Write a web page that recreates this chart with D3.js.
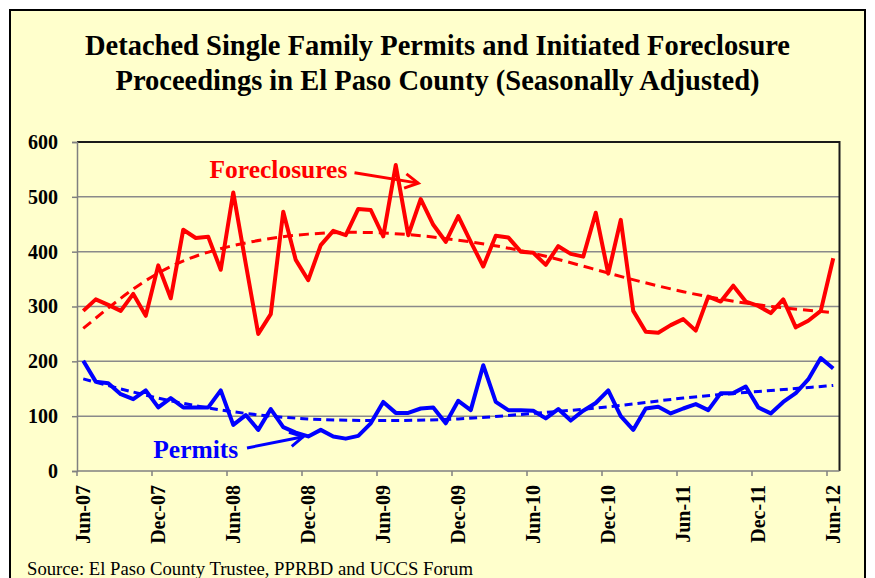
<!DOCTYPE html>
<html>
<head>
<meta charset="utf-8">
<script src="https://cdn.jsdelivr.net/npm/d3@7"></script>
<style>
  html, body { margin: 0; padding: 0; background: #ffffff; }
  svg { display: block; }
</style>
</head>
<body>
<svg id="chart" width="875" height="578"></svg>
<script>
// ---------------- DATA ----------------
const categories = [
  "Jun-07","Jul-07","Aug-07","Sep-07","Oct-07","Nov-07","Dec-07","Jan-08","Feb-08","Mar-08","Apr-08","May-08",
  "Jun-08","Jul-08","Aug-08","Sep-08","Oct-08","Nov-08","Dec-08","Jan-09","Feb-09","Mar-09","Apr-09","May-09",
  "Jun-09","Jul-09","Aug-09","Sep-09","Oct-09","Nov-09","Dec-09","Jan-10","Feb-10","Mar-10","Apr-10","May-10",
  "Jun-10","Jul-10","Aug-10","Sep-10","Oct-10","Nov-10","Dec-10","Jan-11","Feb-11","Mar-11","Apr-11","May-11",
  "Jun-11","Jul-11","Aug-11","Sep-11","Oct-11","Nov-11","Dec-11","Jan-12","Feb-12","Mar-12","Apr-12","May-12",
  "Jun-12"
];
const tickLabels = ["Jun-07","Dec-07","Jun-08","Dec-08","Jun-09","Dec-09","Jun-10","Dec-10","Jun-11","Dec-11","Jun-12"];
const yTicks = [0, 100, 200, 300, 400, 500, 600];

const foreclosures = [
  292,313,303,292,323,283,375,315,440,425,
  427,367,508,378,250,286,473,385,348,412,
  438,430,478,476,428,558,430,496,449,418,
  465,418,373,429,426,400,398,376,410,396,
  391,471,360,458,292,254,252,266,277,256,
  318,309,338,309,301,288,313,262,274,292,388
];
const permits = [
  201,163,160,140,131,147,116,133,116,116,
  116,147,84,102,75,113,80,70,63,75,
  63,59,64,87,126,106,106,114,116,87,
  128,111,193,126,111,111,110,96,113,92,
  110,124,147,100,75,114,117,105,114,122,
  111,142,142,154,116,105,126,142,167,206,187
];
// trend lines (at every 6th month)
const trendMonths = ["Jun-07","Dec-07","Jun-08","Dec-08","Jun-09","Dec-09","Jun-10","Dec-10","Jun-11","Dec-11","Jun-12"];
const foreclosureTrend = [260,361,411,432,434,421,397,361,327,303,289];
const permitTrend      = [168,133,108,95,92,95,105,117,133,145,156];

// ---------------- LAYOUT ----------------
const W = 875, H = 578;
const plot = { left: 77, right: 839.5, top: 142, bottom: 471 };
const bg = "#FFFFCC";
const font = "'Liberation Serif','Times New Roman',Times,serif";

const svg = d3.select("#chart");

// outer frame
svg.append("rect").attr("x", 10).attr("y", 10).attr("width", 855).attr("height", 600)
  .attr("fill", bg).attr("stroke", "#000").attr("stroke-width", 2);

// title
const title = svg.append("text").attr("text-anchor", "middle")
  .attr("font-family", font).attr("font-weight", "bold").attr("font-size", 28.5).attr("fill", "#000");
title.append("tspan").attr("x", 437.5).attr("y", 55).text("Detached Single Family Permits and Initiated Foreclosure");
title.append("tspan").attr("x", 437.5).attr("y", 90).text("Proceedings in El Paso County (Seasonally Adjusted)");

// scales
const x = d3.scaleBand().domain(categories).range([plot.left, plot.right]).padding(0);
const cx = d => x(d) + x.bandwidth() / 2;
const y = d3.scaleLinear().domain([0, 600]).range([plot.bottom, plot.top]);

// plot area
svg.append("rect").attr("x", plot.left).attr("y", plot.top)
  .attr("width", plot.right - plot.left).attr("height", plot.bottom - plot.top)
  .attr("fill", bg);

// gridlines
svg.append("g").selectAll("line").data(yTicks.filter(v => v > 0 && v < 600)).join("line")
  .attr("x1", plot.left).attr("x2", plot.right)
  .attr("y1", d => y(d)).attr("y2", d => y(d))
  .attr("stroke", "#8a8a8a").attr("stroke-width", 1.5);

// plot border (top/right dark)
svg.append("path")
  .attr("d", `M${plot.left},${plot.top}H${plot.right}V${plot.bottom}`)
  .attr("fill", "none").attr("stroke", "#1a1a1a").attr("stroke-width", 2);

// y axis
const yAxis = d3.axisLeft(y).tickValues(yTicks).tickSize(5).tickPadding(14).tickFormat(d3.format("d"));
const gy = svg.append("g").attr("transform", `translate(${plot.left},0)`).call(yAxis);
gy.select(".domain").attr("stroke", "#808080").attr("stroke-width", 1.5);
gy.selectAll(".tick line").attr("stroke", "#808080").attr("stroke-width", 1.5);
gy.selectAll(".tick text").attr("font-family", font).attr("font-weight", "bold")
  .attr("font-size", 20).attr("fill", "#000");

// x axis: domain line + tick marks at category boundaries
const gx = svg.append("g");
gx.append("line").attr("x1", plot.left).attr("x2", plot.right)
  .attr("y1", plot.bottom).attr("y2", plot.bottom)
  .attr("stroke", "#808080").attr("stroke-width", 1.5);
gx.selectAll("line.tk").data(tickLabels).join("line").attr("class", "tk")
  .attr("x1", d => x(d)).attr("x2", d => x(d))
  .attr("y1", plot.bottom).attr("y2", plot.bottom + 5)
  .attr("stroke", "#808080").attr("stroke-width", 1.5);
gx.selectAll("text").data(tickLabels).join("text")
  .attr("transform", d => `translate(${cx(d)},${plot.bottom + 14}) rotate(-90)`)
  .attr("text-anchor", "end").attr("dy", "0.35em")
  .attr("font-family", font).attr("font-weight", "bold").attr("font-size", 20).attr("fill", "#000")
  .text(d => d);

// series lines
const line = d3.line().x((d, i) => cx(categories[i])).y(d => y(d)).curve(d3.curveLinear);
svg.append("path").datum(foreclosures).attr("d", line)
  .attr("fill", "none").attr("stroke", "#FF0000").attr("stroke-width", 4)
  .attr("stroke-linejoin", "round");
svg.append("path").datum(permits).attr("d", line)
  .attr("fill", "none").attr("stroke", "#0000FF").attr("stroke-width", 4)
  .attr("stroke-linejoin", "round");

// trend lines
const tline = d3.line().x((d, i) => cx(trendMonths[i])).y(d => y(d)).curve(d3.curveNatural);
svg.append("path").datum(foreclosureTrend).attr("d", tline)
  .attr("fill", "none").attr("stroke", "#FF0000").attr("stroke-width", 3)
  .attr("stroke-dasharray", "10,6");
svg.append("path").datum(permitTrend).attr("d", tline)
  .attr("fill", "none").attr("stroke", "#0000FF").attr("stroke-width", 3)
  .attr("stroke-dasharray", "8,5");

// annotations (positions in data units: month index, value)
const mx = i => x(categories[0]) + x.bandwidth() * (i + 0.5);
function annotate(label, color, lx, ly, ax0, ay0, ax1, ay1) {
  svg.append("text").attr("x", mx(lx)).attr("y", y(ly))
    .attr("font-family", font).attr("font-weight", "bold").attr("font-size", 25.5)
    .attr("fill", color).text(label);
  const x0 = mx(ax0), y0 = y(ay0), x1 = mx(ax1), y1 = y(ay1);
  const ang = Math.atan2(y1 - y0, x1 - x0), L = 15, a = 0.5;
  svg.append("line").attr("x1", x0).attr("y1", y0).attr("x2", x1).attr("y2", y1)
    .attr("stroke", color).attr("stroke-width", 3);
  svg.append("path")
    .attr("d", `M${x1 - L * Math.cos(ang - a)},${y1 - L * Math.sin(ang - a)}L${x1},${y1}L${x1 - L * Math.cos(ang + a)},${y1 - L * Math.sin(ang + a)}`)
    .attr("fill", "none").attr("stroke", color).attr("stroke-width", 3).attr("stroke-linejoin", "miter");
}
annotate("Foreclosures", "#FF0000", 10.1, 534, 21.7, 544, 26.8, 525);
annotate("Permits", "#0000FF", 5.6, 23.7, 13.1, 42, 17.6, 62.6);

// source
svg.append("text").attr("x", 27).attr("y", 575)
  .attr("font-family", font).attr("font-size", 18.7).attr("fill", "#000")
  .text("Source: El Paso County Trustee, PPRBD and UCCS Forum");
</script>
</body>
</html>
